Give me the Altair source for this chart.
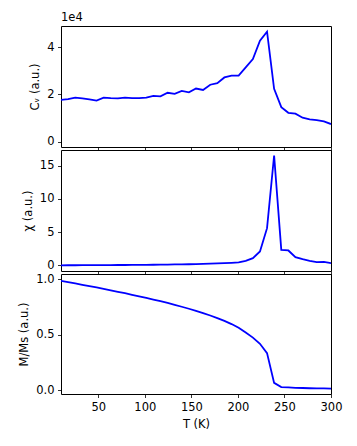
import altair as alt
import pandas as pd

T = [10.0, 17.6, 25.3, 32.9, 40.5, 48.2, 55.8, 63.4, 71.1, 78.7, 86.3, 93.9,
     101.6, 109.2, 116.8, 124.5, 132.1, 139.7, 147.4, 155.0, 162.6, 170.3,
     177.9, 185.5, 193.2, 200.8, 208.4, 216.1, 223.7, 231.3, 238.9, 246.6,
     254.2, 261.8, 269.5, 277.1, 284.7, 292.4, 300.0]

CV = [17700, 18000, 18600, 18300, 17900, 17400, 18600, 18400, 18300, 18600,
      18400, 18400, 18600, 19400, 19200, 20700, 20200, 21500, 20900, 22500,
      21900, 24100, 24800, 27200, 28000, 28000, 31500, 35000, 42800, 46600,
      22400, 14600, 12200, 11800, 10100, 9400, 9100, 8500, 7400]

CHI = [0.02, 0.03, 0.03, 0.04, 0.04, 0.05, 0.05, 0.06, 0.07, 0.07, 0.08, 0.09,
       0.10, 0.11, 0.12, 0.13, 0.15, 0.16, 0.18, 0.20, 0.23, 0.27, 0.31, 0.35,
       0.40, 0.46, 0.68, 1.10, 2.10, 5.60, 16.5, 2.35, 2.25, 1.25, 0.95, 0.70,
       0.50, 0.55, 0.35]

MMS = [0.988, 0.976, 0.964, 0.952, 0.940, 0.928, 0.915, 0.902, 0.889, 0.876,
       0.862, 0.848, 0.834, 0.819, 0.804, 0.788, 0.771, 0.754, 0.736, 0.717,
       0.697, 0.675, 0.652, 0.627, 0.598, 0.565, 0.522, 0.476, 0.420, 0.336,
       0.068, 0.030, 0.027, 0.024, 0.022, 0.020, 0.019, 0.018, 0.017]

X_TICKS = [50, 100, 150, 200, 250, 300]

df = pd.DataFrame({"T": T, "cv": CV, "chi": CHI, "m": MMS})

W = 270
FS = 11.5
LINE = dict(color="#0000ff", strokeWidth=1.8, clip=True)


def xenc(show):
    if show:
        ax = alt.Axis(values=X_TICKS, title="T (K)", format="d", labelFlush=False)
    else:
        ax = alt.Axis(values=X_TICKS, labels=False, title="")
    return alt.X("T:Q", scale=alt.Scale(domain=[10, 300], nice=False, zero=False), axis=ax)


p1 = alt.Chart(df, title=alt.TitleParams(
    "1e4", anchor="start", frame="group", fontSize=FS, font="DejaVu Sans",
    fontWeight="normal", color="black", offset=3)).mark_line(**LINE).encode(
    x=xenc(False),
    y=alt.Y("cv:Q", scale=alt.Scale(domain=[-2330, 49040], nice=False, zero=False),
            axis=alt.Axis(values=[0, 20000, 40000], labelExpr="datum.value / 10000",
                          title="Cᵥ (a.u.)")),
).properties(width=W, height=121)

p2 = alt.Chart(df).mark_line(**LINE).encode(
    x=xenc(False),
    y=alt.Y("chi:Q", scale=alt.Scale(domain=[-0.83, 17.33], nice=False, zero=False),
            axis=alt.Axis(values=[0, 5, 10, 15], title="χ (a.u.)")),
).properties(width=W, height=121)

p3 = alt.Chart(df).mark_line(**LINE).encode(
    x=xenc(True),
    y=alt.Y("m:Q", scale=alt.Scale(domain=[-0.032, 1.049], nice=False, zero=False),
            axis=alt.Axis(values=[0, 0.5, 1.0], format=".1f", title="M/Ms (a.u.)")),
).properties(width=W, height=120)

chart = alt.vconcat(p1, p2, p3, spacing=3, bounds="flush").properties(
    padding={"left": 10, "top": 3, "right": 5, "bottom": 5}
).configure_axis(
    domain=False, grid=False, tickColor="black", tickSize=3.5, tickWidth=0.8,
    labelColor="black", titleColor="black", labelFont="DejaVu Sans",
    titleFont="DejaVu Sans", labelFontSize=FS, titleFontSize=FS,
    titleFontWeight="normal", labelPadding=3.5, titlePadding=6,
).configure_view(stroke="black", strokeWidth=1)

chart.save("out.html", embed_options={"renderer": "svg", "actions": False})
